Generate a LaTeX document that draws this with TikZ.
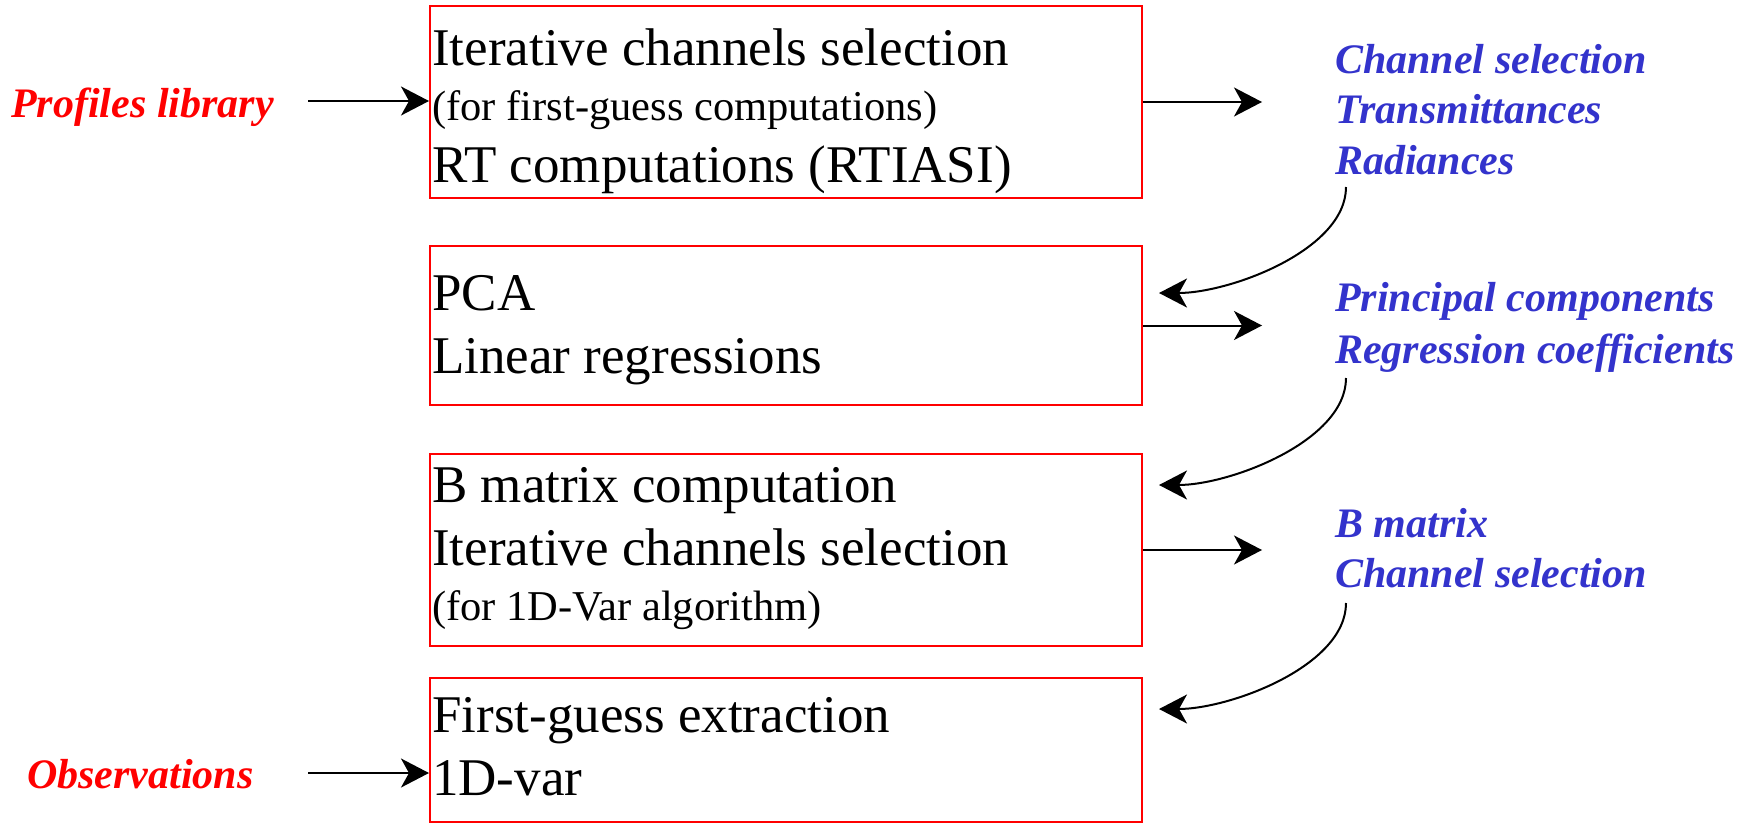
\documentclass[tikz,border=0pt]{standalone}
\usepackage{fontspec}
\setmainfont{Liberation Serif}
\usetikzlibrary{arrows.meta}
\definecolor{myblue}{RGB}{51,51,204}
\begin{document}
\begin{tikzpicture}[x=1bp,y=-1bp,
  box/.style={draw=red, line width=2bp, minimum width=712bp, inner sep=0, anchor=north west},
  maintxt/.style={font=\fontsize{53bp}{64bp}\selectfont, inner sep=0, anchor=base west},
  smalltxt/.style={font=\fontsize{42.5bp}{50bp}\selectfont, inner sep=0, anchor=base west},
  bluetxt/.style={font=\fontsize{42bp}{50bp}\selectfont\bfseries\itshape, text=myblue, inner sep=0, anchor=base west},
  redtxt/.style={font=\fontsize{42bp}{50bp}\selectfont\bfseries\itshape, text=red, inner sep=0, anchor=base west},
  arr/.style={draw=black, line width=2bp, -{Stealth[length=28bp,width=29bp,inset=8bp]}}]
\useasboundingbox (0,0) rectangle (1757,825);

% boxes
\node[box, minimum height=192bp] (r1) at (429,5) {};
\node[box, minimum height=159bp] (r2) at (429,245) {};
\node[box, minimum height=192bp] (r3) at (429,453) {};
\node[box, minimum height=144bp] (r4) at (429,677) {};

% box texts
\node[maintxt]  (t1a) at (432,65)  {Iterative channels selection};
\node[smalltxt] (t1b) at (432,120) {(for first-guess computations)};
\node[maintxt]  (t1c) at (432,182) {RT computations (RTIASI)};
\node[maintxt]  (t2a) at (432,310) {PCA};
\node[maintxt]  (t2b) at (432,373) {Linear regressions};
\node[maintxt]  (t3a) at (432,502) {B matrix computation};
\node[maintxt]  (t3b) at (432,565) {Iterative channels selection};
\node[smalltxt] (t3c) at (432,620) {(for 1D-Var algorithm)};
\node[maintxt]  (t4a) at (432,732) {First-guess extraction};
\node[maintxt]  (t4b) at (432,795) {1D-var};

% left inputs
\node[redtxt] (pl) at (11,117) {Profiles library};
\node[redtxt] (ob) at (27,788) {Observations};
\coordinate (p0) at (308,101);
\coordinate (o0) at (308,773);
\draw[arr] (p0) -- (p0 -| r1.west);
\draw[arr] (o0) -- (o0 -| r4.west);

% right outputs
\node[bluetxt] (b1a) at (1335,73)  {Channel selection};
\node[bluetxt] (b1b) at (1335,123) {Transmittances};
\node[bluetxt] (b1c) at (1335,174) {Radiances};
\node[bluetxt] (b2a) at (1335,311) {Principal components};
\node[bluetxt] (b2b) at (1335,363) {Regression coefficients};
\node[bluetxt] (b3a) at (1335,537) {B matrix};
\node[bluetxt] (b3b) at (1335,587) {Channel selection};

\draw[arr] (r1.east) -- ++(119,0);
\draw[arr] (r2.east) -- ++(119,0);
\draw[arr] (r3.east) -- ++(119,0);

% feedback curves
\coordinate (s1) at (1346,187);
\coordinate (e1) at (1159,293);
\coordinate (s2) at (1346,378);
\coordinate (e2) at (1159,485);
\coordinate (s3) at (1346,603);
\coordinate (e3) at (1159,709);
\draw[arr] (s1) .. controls +(0,63) and +(71,0) .. (e1);
\draw[arr] (s2) .. controls +(0,63) and +(71,0) .. (e2);
\draw[arr] (s3) .. controls +(0,63) and +(71,0) .. (e3);
\end{tikzpicture}
\end{document}
